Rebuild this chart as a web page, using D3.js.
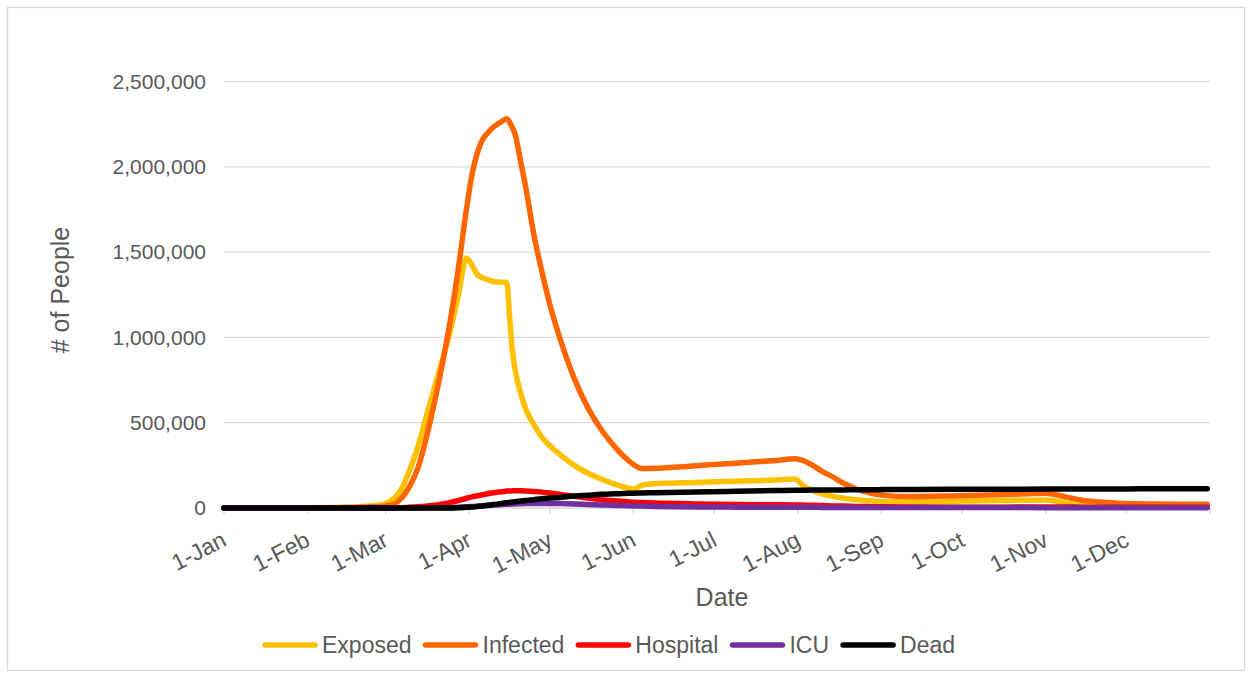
<!DOCTYPE html>
<html>
<head>
<meta charset="utf-8">
<script src="https://cdn.jsdelivr.net/npm/d3@7"></script>
<style>
  body { margin: 0; background: #ffffff; }
  svg text { font-family: "Liberation Sans", Arial, sans-serif; fill: #595959; }
</style>
</head>
<body>
<svg id="chart" width="1252" height="677"></svg>
<script>
// Model output dates (2020)
const dates = [
  "2020-01-01","2020-01-21","2020-02-10","2020-02-20","2020-02-25",
  "2020-03-01","2020-03-04","2020-03-07","2020-03-10","2020-03-13",
  "2020-03-16","2020-03-19","2020-03-22","2020-03-25","2020-03-28",
  "2020-03-31","2020-04-02","2020-04-04","2020-04-06","2020-04-08",
  "2020-04-10","2020-04-12","2020-04-14","2020-04-15","2020-04-16","2020-04-17","2020-04-18",
  "2020-04-20","2020-04-22","2020-04-25","2020-04-28","2020-05-01",
  "2020-05-05","2020-05-10","2020-05-15","2020-05-20","2020-05-25",
  "2020-05-30","2020-06-01","2020-06-04","2020-06-09","2020-06-24",
  "2020-07-09","2020-07-24","2020-07-31","2020-08-03","2020-08-06",
  "2020-08-10","2020-08-14","2020-08-18","2020-08-23","2020-08-28",
  "2020-09-02","2020-09-12","2020-09-27","2020-10-17","2020-11-01",
  "2020-11-04","2020-11-08","2020-11-14","2020-11-21","2020-12-01",
  "2020-12-11","2020-12-31"
];

const exposed = [
  0, 300, 3000, 7000, 13000,
  25000, 55000, 115000, 225000, 360000,
  530000, 700000, 864000, 1040000, 1250000,
  1465000, 1425000, 1368000, 1350000, 1338000,
  1327000, 1324000, 1323000, 1320000, 1120000, 930000, 816000,
  680000, 580000, 490000, 415000, 365000,
  310000, 250000, 205000, 170000, 140000,
  117000, 110000, 133000, 142000, 150000,
  157000, 164000, 170000, 130000, 105000,
  83000, 68000, 58000, 48000, 42000,
  37000, 37000, 40000, 44000, 47000,
  42000, 30000, 18000, 14000, 12000,
  12000, 12000
];

const infected = [
  0, 200, 1500, 4000, 7000,
  12000, 22000, 60000, 130000, 235000,
  406000, 610000, 840000, 1100000, 1405000,
  1750000, 1950000, 2080000, 2160000, 2200000,
  2233000, 2255000, 2275000, 2282000, 2262000, 2230000, 2195000,
  2040000, 1880000, 1605000, 1385000, 1190000,
  980000, 760000, 590000, 460000, 360000,
  280000, 255000, 232000, 233000, 248000,
  263000, 279000, 288000, 278000, 255000,
  215000, 182000, 145000, 110000, 88000,
  74000, 67000, 71000, 79000, 86000,
  80000, 66000, 47000, 35000, 26000,
  23000, 22000
];

const hospital = [
  0, 0, 0, 0, 0,
  300, 1000, 2000, 4000, 7000,
  11000, 16000, 24000, 33000, 44000,
  57000, 65000, 72000, 78000, 84000,
  89000, 94000, 97000, 99000, 100000, 100500, 101000,
  101000, 100000, 97000, 93000, 88000,
  80000, 68000, 58000, 49000, 42000,
  36000, 34000, 32000, 29000, 24000,
  21000, 19000, 18000, 17000, 16000,
  14000, 12000, 11000, 9000, 8000,
  7000, 6000, 5000, 5000, 6000,
  6000, 6000, 5000, 5000, 4000,
  4000, 4000
];

const icu = [
  0, 0, 0, 0, 0,
  0, 0, 0, 0, 0,
  0, 1000, 2000, 3000, 5000,
  7000, 9000, 11000, 13000, 15000,
  17000, 19000, 21000, 22000, 22500, 23000, 24000,
  25000, 26000, 27000, 27000, 27000,
  26000, 24000, 21000, 18000, 15000,
  13000, 12000, 11000, 9000, 6000,
  5000, 4000, 4000, 4000, 4000,
  3500, 3500, 3000, 3000, 3000,
  3000, 3000, 2500, 2500, 2000,
  2000, 2000, 2000, 2000, 2000,
  2000, 2000
];

const dead = [
  0, 0, 0, 0, 0,
  0, 0, 0, 0, 0,
  0, 0, 0, 0, 1000,
  4000, 6000, 9000, 12000, 16000,
  20000, 24000, 29000, 31000, 33000, 35000, 37000,
  41000, 44000, 49000, 54000, 58000,
  63000, 70000, 75000, 80000, 83000,
  86000, 87000, 88000, 90000, 94000,
  98000, 102000, 104000, 104000, 105000,
  105000, 106000, 106000, 107000, 107000,
  108000, 109000, 110000, 110000, 111000,
  111000, 111000, 111000, 112000, 112000,
  113000, 113000
];

const seriesNames  = ["Exposed", "Infected", "Hospital", "ICU", "Dead"];
const seriesColors = ["#FFC000", "#FF6600", "#FF0000", "#7030A0", "#000000"];
const seriesValues = [exposed, infected, hospital, icu, dead];

const monthLabels = ["1-Jan","1-Feb","1-Mar","1-Apr","1-May","1-Jun",
                     "1-Jul","1-Aug","1-Sep","1-Oct","1-Nov","1-Dec"];
const yTickValues = [0, 500000, 1000000, 1500000, 2000000, 2500000];

const parse = d3.utcParse("%Y-%m-%d");
const svg = d3.select("#chart");

// chart frame
svg.append("rect")
  .attr("x", 7.5).attr("y", 7.5)
  .attr("width", 1237).attr("height", 663)
  .attr("fill", "#fff").attr("stroke", "#d9d9d9").attr("stroke-width", 1.3);

const x = d3.scaleUtc()
  .domain([parse("2020-01-01"), parse("2021-01-01")])
  .range([224, 1210]);

const y = d3.scaleLinear()
  .domain([0, 2500000])
  .range([508, 81.5]);

// horizontal gridlines + y labels
const yAxis = svg.append("g");
yAxis.selectAll("line").data(yTickValues).join("line")
  .attr("x1", x.range()[0]).attr("x2", x.range()[1])
  .attr("y1", d => y(d)).attr("y2", d => y(d))
  .attr("stroke", "#d9d9d9").attr("stroke-width", 1.3);
yAxis.selectAll("text").data(yTickValues).join("text")
  .attr("x", 206).attr("y", d => y(d))
  .attr("dy", "0.35em")
  .attr("text-anchor", "end")
  .style("font-size", "21px")
  .text(d => d3.format(",")(d));

// month ticks along the baseline
const tickDates = d3.utcMonth.range(parse("2020-01-01"), parse("2021-01-02"));
const xAxis = svg.append("g");
xAxis.selectAll("line").data(tickDates).join("line")
  .attr("x1", d => x(d)).attr("x2", d => x(d))
  .attr("y1", 508).attr("y2", 514)
  .attr("stroke", "#d9d9d9").attr("stroke-width", 1.3);
xAxis.selectAll("text").data(tickDates.slice(0, monthLabels.length)).join("text")
  .attr("transform", d => `translate(${x(d) + 4},545) rotate(-27)`)
  .attr("text-anchor", "end")
  .style("font-size", "23px")
  .text((d, i) => monthLabels[i]);

// axis titles
svg.append("text")
  .attr("transform", "translate(69,290) rotate(-90)")
  .attr("text-anchor", "middle")
  .style("font-size", "25px")
  .text("# of People");
svg.append("text")
  .attr("x", 722).attr("y", 606)
  .attr("text-anchor", "middle")
  .style("font-size", "25px")
  .text("Date");

// series lines
const line = d3.line()
  .x(d => x(d.date))
  .y(d => y(d.value))
  .curve(d3.curveMonotoneX);

const parsedDates = dates.map(parse);
const lines = svg.append("g");
seriesValues.forEach((vals, i) => {
  const pts = vals.map((v, j) => ({ date: parsedDates[j], value: v }));
  lines.append("path")
    .datum(pts)
    .attr("d", line)
    .attr("fill", "none")
    .attr("stroke", seriesColors[i])
    .attr("stroke-width", 5.5)
    .attr("stroke-linejoin", "round")
    .attr("stroke-linecap", "round");
});

// legend
const legend = svg.append("g");
let lx = 262;
const ly = 645;
seriesNames.forEach((name, i) => {
  legend.append("line")
    .attr("x1", lx + 3).attr("x2", lx + 53)
    .attr("y1", ly).attr("y2", ly)
    .attr("stroke", seriesColors[i])
    .attr("stroke-width", 5.5)
    .attr("stroke-linecap", "round");
  const t = legend.append("text")
    .attr("x", lx + 60).attr("y", ly)
    .attr("dy", "0.35em")
    .style("font-size", "23px")
    .text(name);
  lx = lx + 60 + t.node().getComputedTextLength() + 11;
});
</script>
</body>
</html>
